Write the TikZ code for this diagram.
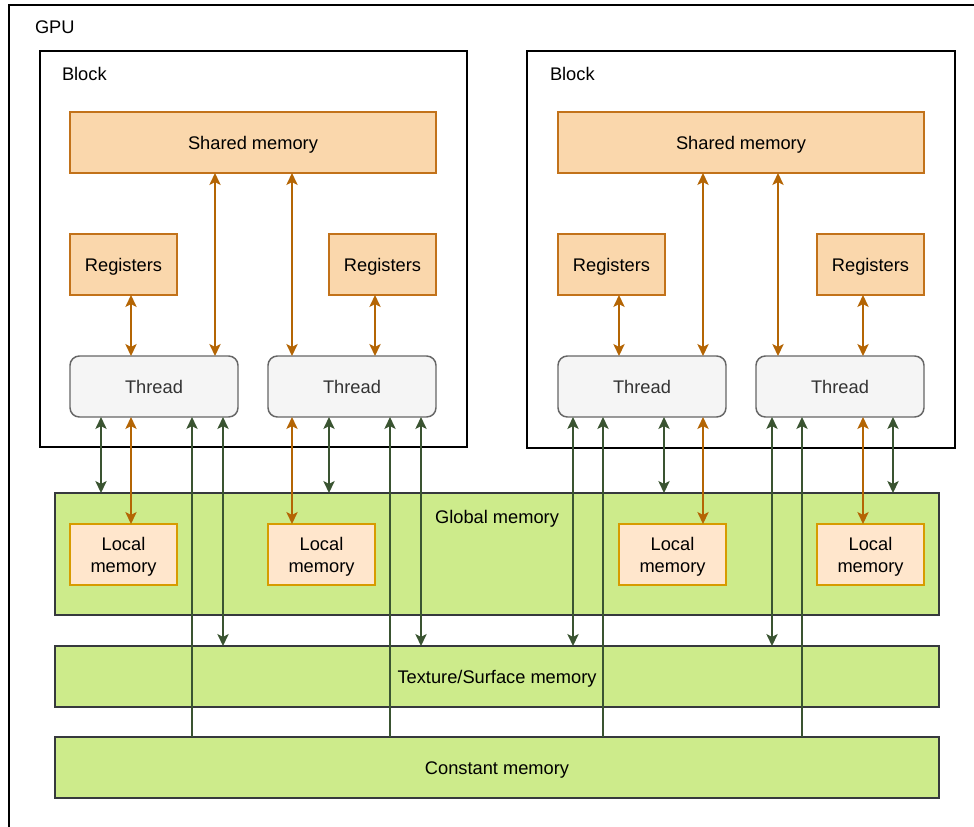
\documentclass[tikz,border=0pt]{standalone}
\usepackage{fontspec}
\setmainfont{Liberation Sans}
\usetikzlibrary{arrows.meta}
\definecolor{ofill}{HTML}{FAD7AC}
\definecolor{ostroke}{HTML}{C2721A}
\definecolor{oarrow}{HTML}{B46504}
\definecolor{lfill}{HTML}{FFE6CC}
\definecolor{lstroke}{HTML}{D79B00}
\definecolor{gfill}{HTML}{CDEB8B}
\definecolor{gstroke}{HTML}{36393D}
\definecolor{garrow}{HTML}{3A5431}
\definecolor{tfill}{HTML}{F5F5F5}
\definecolor{tstroke}{HTML}{666666}
\definecolor{ttext}{HTML}{333333}
\tikzset{
  every node/.style={font=\fontsize{13.7pt}{16.5pt}\selectfont, inner sep=0pt, outer sep=0pt, text height=9.8pt, text depth=0pt},
  sz/.style 2 args={minimum width=#1*0.75pt, minimum height=#2*0.75pt},
  obox/.style={draw=ostroke, fill=ofill, line width=1.1pt},
  lbox/.style={draw=lstroke, fill=lfill, line width=1.1pt},
  ltext/.style={align=center, text height=, text depth=, yshift=-1.5pt},
  gbox/.style={draw=gstroke, fill=gfill, line width=1.1pt},
  tbox/.style={draw=tstroke, fill=tfill, line width=1.1pt, rounded corners=7pt, text=ttext},
  bbox/.style={draw=black, line width=1.1pt},
  oarr/.style={draw=oarrow, line width=1.1pt, {Stealth[length=9pt, width=8.5pt, inset=2.2pt]}-{Stealth[length=9pt, width=8.5pt, inset=2.2pt]}},
  garr/.style={draw=garrow, line width=1.1pt, {Stealth[length=9pt, width=8.5pt, inset=2.2pt]}-{Stealth[length=9pt, width=8.5pt, inset=2.2pt]}},
  garrone/.style={draw=garrow, line width=1.1pt, -{Stealth[length=9pt, width=8.5pt, inset=2.2pt]}},
}
\begin{document}
\begin{tikzpicture}[x=0.75pt, y=-0.75pt]
\useasboundingbox (0,0) rectangle (974,826);
\clip (0,0) rectangle (974,826);
\fill[white] (0,0) rectangle (974,826);
% GPU
\draw[black, line width=1.1pt] (9,5) rectangle (1000,900);
\node[anchor=west] (gpulbl) at (35,27) {GPU};
% Blocks
\node[bbox, sz={427}{396}] (block1) at (253.5,249) {};
\node[bbox, sz={428}{397}] (block2) at (741,249.5) {};
\node[anchor=west] (blk1lbl) at (62,74) {Block};
\node[anchor=west] (blk2lbl) at (550,74) {Block};
% Shared memory
\node[obox, sz={366}{61}] (sh1) at (253,142.5) {Shared memory};
\node[obox, sz={366}{61}] (sh2) at (741,142.5) {Shared memory};
% Registers
\node[obox, sz={107}{61}] (rg1) at (123.5,264.5) {Registers};
\node[obox, sz={107}{61}] (rg2) at (382.5,264.5) {Registers};
\node[obox, sz={107}{61}] (rg3) at (611.5,264.5) {Registers};
\node[obox, sz={107}{61}] (rg4) at (870.5,264.5) {Registers};
% Threads
\node[tbox, sz={168}{61}] (th1) at (154,386.5) {Thread};
\node[tbox, sz={168}{61}] (th2) at (352,386.5) {Thread};
\node[tbox, sz={168}{61}] (th3) at (642,386.5) {Thread};
\node[tbox, sz={168}{61}] (th4) at (840,386.5) {Thread};
% Global memory
\node[gbox, sz={884}{122}] (glob) at (497,554) {};
\node (globlbl) at (497,517) {Global memory};
\node[lbox, sz={107}{61}, label={[ltext]center:{Local\\memory}}] (lm1) at (123.5,554.5) {};
\node[lbox, sz={107}{61}, label={[ltext]center:{Local\\memory}}] (lm2) at (321.5,554.5) {};
\node[lbox, sz={107}{61}, label={[ltext]center:{Local\\memory}}] (lm3) at (672.5,554.5) {};
\node[lbox, sz={107}{61}, label={[ltext]center:{Local\\memory}}] (lm4) at (870.5,554.5) {};
% Texture, Constant
\node[gbox, sz={884}{61}] (tex) at (497,676.5) {Texture/Surface memory};
\node[gbox, sz={884}{61}] (con) at (497,767.5) {Constant memory};
% x positions
\foreach \n/\v in {a/101,b/131,c/192,d/215,e/223,f/292,g/329,h/375,i/390,j/421,
                   k/573,l/603,m/619,n/664,o/703,p/772,q/778,r/802,s/863,t/893}
  \coordinate (x\n) at (\v,0);
% Block 1 upper arrows
\draw[oarr] (xb |- rg1.south) -- (xb |- th1.north);
\draw[oarr] (xd |- sh1.south) -- (xd |- th1.north);
\draw[oarr] (xf |- sh1.south) -- (xf |- th2.north);
\draw[oarr] (xh |- rg2.south) -- (xh |- th2.north);
% Block 2 upper arrows
\draw[oarr] (xm |- rg3.south) -- (xm |- th3.north);
\draw[oarr] (xo |- sh2.south) -- (xo |- th3.north);
\draw[oarr] (xq |- sh2.south) -- (xq |- th4.north);
\draw[oarr] (xs |- rg4.south) -- (xs |- th4.north);
% Thread 1 lower
\draw[garr] (xa |- th1.south) -- (xa |- glob.north);
\draw[oarr] (xb |- th1.south) -- (xb |- lm1.north);
\draw[garrone] (xc |- con.north) -- (xc |- th1.south);
\draw[garr] (xe |- th1.south) -- (xe |- tex.north);
% Thread 2 lower
\draw[oarr] (xf |- th2.south) -- (xf |- lm2.north);
\draw[garr] (xg |- th2.south) -- (xg |- glob.north);
\draw[garrone] (xi |- con.north) -- (xi |- th2.south);
\draw[garr] (xj |- th2.south) -- (xj |- tex.north);
% Thread 3 lower
\draw[garr] (xk |- th3.south) -- (xk |- tex.north);
\draw[garrone] (xl |- con.north) -- (xl |- th3.south);
\draw[garr] (xn |- th3.south) -- (xn |- glob.north);
\draw[oarr] (xo |- th3.south) -- (xo |- lm3.north);
% Thread 4 lower
\draw[garr] (xp |- th4.south) -- (xp |- tex.north);
\draw[garrone] (xr |- con.north) -- (xr |- th4.south);
\draw[oarr] (xs |- th4.south) -- (xs |- lm4.north);
\draw[garr] (xt |- th4.south) -- (xt |- glob.north);
\end{tikzpicture}
\end{document}
